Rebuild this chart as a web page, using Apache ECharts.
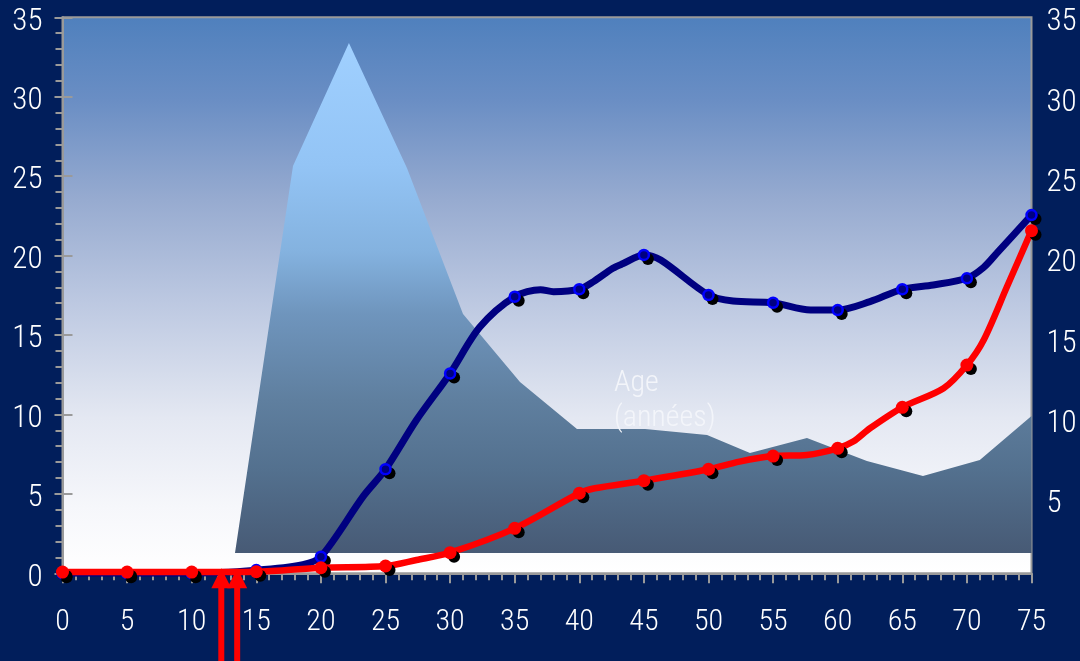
<!DOCTYPE html>
<html>
<head>
<meta charset="utf-8">
<script src="https://cdn.jsdelivr.net/npm/echarts@6/dist/echarts.min.js"></script>
<style>
  html, body { margin: 0; padding: 0; background: #011e5b; }
  #chart { width: 1080px; height: 661px; }
</style>
</head>
<body>
<div id="chart"></div>
<script>
// Age axis (years) and the five-year points marked with dots
const dotAges = [0, 5, 10, 15, 20, 25, 30, 35, 40, 45, 50, 55, 60, 65, 70, 75];

// Blue curve: values at the marked ages, plus the readings between them
const blueDots = [0, 0, 0, 0.2, 1.04, 6.55, 12.58, 17.41, 17.88, 20.04, 17.52, 17.03, 16.57, 17.88, 18.57, 22.55];
const blueLineAges = [0, 5, 10, 15, 18.6, 20, 23.3, 25, 27.4, 30, 32.3, 35, 37, 38, 40, 41.1, 42.6, 43.4, 45, 46.3, 50, 51.9, 55, 57.9, 60, 62.5, 65, 67.4, 70, 71.3, 72.3, 75];
const blueLineVals = [0, 0, 0, 0.2, 0.55, 1.04, 4.87, 6.55, 9.65, 12.58, 15.5, 17.41, 17.85, 17.73, 17.88, 18.36, 19.2, 19.5, 20.04, 19.72, 17.52, 17.14, 17.03, 16.57, 16.57, 17.1, 17.88, 18.15, 18.57, 19.26, 20.14, 22.55];

// Red curve
const redDots = [0.08, 0.08, 0.08, 0.1, 0.35, 0.46, 1.3, 2.83, 5.04, 5.83, 6.55, 7.38, 7.87, 10.45, 13.11, 21.57];
const redLineAges = [0, 5, 10, 15, 20, 25, 27.4, 30, 35, 40, 41.2, 45, 50, 52.4, 55, 57.6, 60, 61.2, 62.5, 65, 68.2, 70, 71.3, 73.1, 75];
const redLineVals = [0.08, 0.08, 0.08, 0.1, 0.35, 0.46, 0.84, 1.3, 2.83, 5.04, 5.35, 5.83, 6.55, 7.03, 7.38, 7.45, 7.87, 8.29, 9.13, 10.45, 11.65, 13.11, 14.69, 18.04, 21.57];

// Age distribution drawn as the shaded mountain behind the curves
const mountainAges = [13.35, 17.84, 22.17, 26.66, 31.0, 35.41, 39.82, 45.09, 49.89, 53.21, 57.62, 62.26, 66.6, 71.0, 75.0];
const mountainVals = [1.28, 25.64, 33.38, 25.51, 16.32, 12.04, 9.09, 9.09, 8.71, 7.57, 8.52, 7.07, 6.13, 7.13, 9.9];
const mountainBase = 1.28;

// Tick labels
const leftTicks = { min: 0, max: 35, interval: 5 };
const rightLabels = [5, 10, 15, 20, 25, 30, 35];
const rightRange = { min: 0.45, max: 35.05 };

// Ages pointed at by the arrows under the axis
const arrowAges = [12.29, 13.52];

const FONT = "'Roboto', 'Open Sans', sans-serif";
const FONT_WEIGHT = '300 semi-condensed';   // light, narrow face
const AXIS_GRAY = '#9a9a9a';

const zip = (xs, ys) => xs.map((x, i) => [x, ys[i]]);

const chart = echarts.init(document.getElementById('chart'), null, { renderer: 'canvas' });

const yLabel = {
  color: '#ffffff', fontSize: 31, fontFamily: FONT, fontWeight: FONT_WEIGHT,
  verticalAlign: 'top', lineHeight: 9
};

const option = {
  animation: false,
  backgroundColor: '#011e5b',
  textStyle: { fontFamily: FONT },
  grid: {
    left: 62.5, right: 48.5, top: 17.3, bottom: 87.7,
    show: true,
    borderColor: AXIS_GRAY,
    borderWidth: 2,
    backgroundColor: new echarts.graphic.LinearGradient(0, 0, 0, 1, [
      { offset: 0, color: '#4f80bd' },
      { offset: 0.15, color: '#6a8ec4' },
      { offset: 0.33, color: '#97abd0' },
      { offset: 0.51, color: '#bcc8e1' },
      { offset: 0.72, color: '#e4e8f2' },
      { offset: 0.88, color: '#f6f7fb' },
      { offset: 1, color: '#ffffff' }
    ])
  },
  xAxis: {
    type: 'value', min: 0, max: 75, interval: 5,
    axisLine: { show: true, onZero: false, lineStyle: { color: AXIS_GRAY, width: 2 } },
    axisTick: { show: true, length: 10, lineStyle: { color: AXIS_GRAY, width: 2 } },
    minorTick: { show: true, splitNumber: 5, length: 7, lineStyle: { color: AXIS_GRAY, width: 2 } },
    splitLine: { show: false },
    axisLabel: {
      color: '#ffffff', fontSize: 30, fontFamily: FONT, fontWeight: FONT_WEIGHT,
      margin: 34, lineHeight: 30
    }
  },
  yAxis: [
    {
      type: 'value', position: 'left', min: leftTicks.min, max: leftTicks.max, interval: leftTicks.interval,
      axisLine: { show: true, lineStyle: { color: AXIS_GRAY, width: 2 } },
      axisTick: { show: true, length: 8, lineStyle: { color: AXIS_GRAY, width: 2 } },
      minorTick: { show: true, splitNumber: 5, length: 7, lineStyle: { color: AXIS_GRAY, width: 2 } },
      splitLine: { show: false },
      axisLabel: Object.assign({ margin: 20 }, yLabel)
    },
    {
      // inner half of the major ticks on the left axis
      type: 'value', position: 'left', min: leftTicks.min, max: leftTicks.max, interval: leftTicks.interval,
      axisLine: { show: false },
      axisTick: { show: true, inside: true, length: 10, lineStyle: { color: AXIS_GRAY, width: 2 } },
      axisLabel: { show: false },
      splitLine: { show: false }
    },
    {
      type: 'value', position: 'right', min: rightRange.min, max: rightRange.max,
      axisLine: { show: false },
      axisTick: { show: false },
      splitLine: { show: false },
      axisLabel: Object.assign({ margin: 15, customValues: rightLabels }, yLabel)
    }
  ],
  series: [
    {
      name: 'mountain',
      type: 'line',
      data: zip(mountainAges, mountainVals),
      showSymbol: false,
      symbol: 'none',
      lineStyle: { width: 0 },
      areaStyle: {
        origin: mountainBase,
        opacity: 1,
        color: new echarts.graphic.LinearGradient(0, 0, 0, 1, [
          { offset: 0, color: '#a0d0ff' },
          { offset: 0.24, color: '#93c4f5' },
          { offset: 0.41, color: '#84b2df' },
          { offset: 0.53, color: '#6f95bd' },
          { offset: 0.7, color: '#5f7f9f' },
          { offset: 0.84, color: '#53708e' },
          { offset: 1, color: '#475a75' }
        ])
      },
      silent: true,
      z: 1
    },
    {
      name: 'blue',
      type: 'line',
      data: zip(blueLineAges, blueLineVals),
      smooth: 0.3,
      showSymbol: false,
      symbol: 'none',
      lineStyle: { color: '#000080', width: 7 },
      z: 3
    },
    {
      name: 'blue-shadow',
      type: 'scatter',
      data: zip(dotAges, blueDots),
      symbol: 'circle',
      symbolSize: 12,
      symbolOffset: [4, 4],
      itemStyle: { color: '#000000', opacity: 1 },
      z: 4
    },
    {
      name: 'blue-dots',
      type: 'scatter',
      data: zip(dotAges, blueDots),
      symbol: 'circle',
      symbolSize: 10,
      itemStyle: { color: '#000080', borderColor: '#0000ff', borderWidth: 2.5, opacity: 1 },
      z: 5
    },
    {
      name: 'red',
      type: 'line',
      data: zip(redLineAges, redLineVals),
      smooth: 0.3,
      showSymbol: false,
      symbol: 'none',
      lineStyle: { color: '#ff0000', width: 6.5 },
      z: 6
    },
    {
      name: 'red-shadow',
      type: 'scatter',
      data: zip(dotAges, redDots),
      symbol: 'circle',
      symbolSize: 12,
      symbolOffset: [4, 4],
      itemStyle: { color: '#000000', opacity: 1 },
      z: 7
    },
    {
      name: 'red-dots',
      type: 'scatter',
      data: zip(dotAges, redDots),
      symbol: 'circle',
      symbolSize: 13,
      itemStyle: { color: '#ff0000', opacity: 1 },
      z: 8
    }
  ]
};

chart.setOption(option);

// Caption inside the plot, and the arrows pointing at the age axis
const graphics = [
  {
    type: 'text',
    left: 614, top: 366,
    z: 2,
    style: {
      text: 'Age\n(années)',
      fill: '#f3f5fa',
      font: "300 semi-condensed 30px 'Roboto'",
      lineHeight: 35
    }
  }
];
const axisY = chart.convertToPixel({ gridIndex: 0 }, [0, 0])[1];
arrowAges.forEach(age => {
  const x = chart.convertToPixel({ xAxisIndex: 0 }, age);
  graphics.push({
    type: 'rect',
    shape: { x: x - 3, y: axisY + 14, width: 6, height: 661 - axisY - 14 },
    style: { fill: '#ff0000' },
    z: 20
  });
  graphics.push({
    type: 'polygon',
    shape: { points: [[x - 10, axisY + 15], [x, axisY - 5], [x + 10, axisY + 15]] },
    style: { fill: '#ff0000' },
    z: 20
  });
});
chart.setOption({ graphic: graphics });
</script>
</body>
</html>
